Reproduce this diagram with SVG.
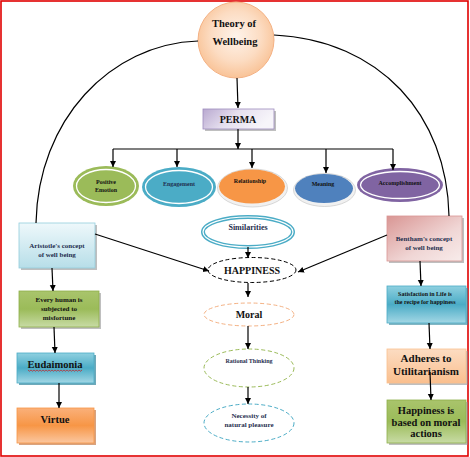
<svg xmlns="http://www.w3.org/2000/svg" width="470" height="457" viewBox="0 0 470 457">
<style>
.t{font-family:"Liberation Serif","Times New Roman",serif;font-weight:bold;text-anchor:middle;fill:#111}
.s{font-family:"Liberation Serif","Times New Roman",serif;font-weight:bold;text-anchor:middle;fill:#1f2f4f}
.c{fill:none;stroke:#000;stroke-width:1.2}
.ca{fill:none;stroke:#000;stroke-width:1.2;marker-end:url(#ah)}
.sh{fill:#8a8a8a;opacity:0.55}
</style>
<defs>
<marker id="ah" markerUnits="userSpaceOnUse" markerWidth="7" markerHeight="7" refX="6" refY="3" orient="auto">
<path d="M0,0 L6,3 L0,6 z" fill="#000"/>
</marker>
<radialGradient id="gCircle" cx="0.5" cy="0.45" r="0.55">
<stop offset="0" stop-color="#fef3ea"/>
<stop offset="0.6" stop-color="#fcdcc2"/>
<stop offset="1" stop-color="#f9c397"/>
</radialGradient>
<linearGradient id="gPerma" x1="0" y1="0" x2="1" y2="0.3">
<stop offset="0" stop-color="#b9a9d0"/>
<stop offset="0.5" stop-color="#e6e0ef"/>
<stop offset="1" stop-color="#f7f5fa"/>
</linearGradient>
<linearGradient id="gAri" x1="0" y1="0" x2="0" y2="1">
<stop offset="0" stop-color="#eef8fb"/>
<stop offset="1" stop-color="#b7dee8"/>
</linearGradient>
<linearGradient id="gGreen" x1="0" y1="0" x2="0" y2="1">
<stop offset="0" stop-color="#a9c46c"/>
<stop offset="0.5" stop-color="#9bbb59"/>
<stop offset="1" stop-color="#c8dba5"/>
</linearGradient>
<linearGradient id="gBlue" x1="0" y1="0" x2="0" y2="1">
<stop offset="0" stop-color="#8fd0e0"/>
<stop offset="0.5" stop-color="#4bacc6"/>
<stop offset="1" stop-color="#a3d7e5"/>
</linearGradient>
<linearGradient id="gOrange" x1="0" y1="0" x2="0" y2="1">
<stop offset="0" stop-color="#fab07a"/>
<stop offset="0.5" stop-color="#f79646"/>
<stop offset="1" stop-color="#fbc7a0"/>
</linearGradient>
<linearGradient id="gPink" x1="0" y1="0" x2="1" y2="1">
<stop offset="0" stop-color="#d99694"/>
<stop offset="0.6" stop-color="#f0d6d5"/>
<stop offset="1" stop-color="#f8eceb"/>
</linearGradient>
<linearGradient id="gPeach" x1="0" y1="0" x2="0" y2="1">
<stop offset="0" stop-color="#fcdcc2"/>
<stop offset="1" stop-color="#fabf8e"/>
</linearGradient>
</defs>
<rect x="0" y="0" width="470" height="457" fill="#fff"/>
<rect x="1" y="1" width="467" height="455" fill="none" stroke="#e00000" stroke-width="1.6"/>

<g id="theory">
<circle cx="236" cy="40" r="38" fill="url(#gCircle)" stroke="#f4b183" stroke-width="1"/>
<text class="t" x="234" y="27" font-size="10.5">Theory of</text>
<text class="t" x="235" y="45" font-size="10.5">Wellbeing</text>
</g>
<g id="perma">
<rect x="205" y="111" width="71" height="20" class="sh"/>
<rect x="203" y="109" width="71" height="20" fill="url(#gPerma)" stroke="#9d8cbd" stroke-width="0.8"/>
<text class="t" x="238" y="122.5" font-size="10">PERMA</text>
</g>
<g id="positive-emotion">
<ellipse cx="106" cy="186" rx="33" ry="20" fill="#9bbb59"/>
<ellipse cx="106" cy="186" rx="29.5" ry="16.5" fill="none" stroke="#fff" stroke-width="1.3"/>
<text class="t" x="106" y="184" font-size="6">Positive</text>
<text class="t" x="106" y="191.5" font-size="6">Emotion</text>
</g>
<g id="engagement">
<ellipse cx="179" cy="187" rx="37" ry="20" fill="#4bacc6"/>
<ellipse cx="179" cy="187" rx="33.5" ry="16.5" fill="none" stroke="#fff" stroke-width="1.3"/>
<text class="s" x="179" y="186" font-size="6">Engagement</text>
</g>
<g id="relationship">
<ellipse cx="252.5" cy="188" rx="35" ry="19" fill="#f1f1f1" stroke="#c8c8c8" stroke-width="0.7"/>
<ellipse cx="252" cy="186.5" rx="33" ry="17" fill="#f79646"/>
<text class="t" x="250" y="183" font-size="6">Relationship</text>
</g>
<g id="meaning">
<ellipse cx="324.5" cy="190" rx="31" ry="16.5" fill="#f1f1f1" stroke="#c8c8c8" stroke-width="0.7"/>
<ellipse cx="324" cy="188.5" rx="29" ry="14.5" fill="#4f81bd"/>
<text class="t" x="323" y="186" font-size="6">Meaning</text>
</g>
<g id="accomplishment">
<ellipse cx="400" cy="185" rx="43" ry="17" fill="#8064a2"/>
<ellipse cx="400" cy="185" rx="39.5" ry="13.5" fill="none" stroke="#fff" stroke-width="1.3"/>
<text class="t" x="400" y="185" font-size="6">Accomplishment</text>
</g>
<g id="similarities">
<ellipse cx="248" cy="232" rx="45" ry="15" fill="#fff" stroke="#4bacc6" stroke-width="4"/>
<ellipse cx="248" cy="232" rx="45" ry="15" fill="none" stroke="#fff" stroke-width="1.2"/>
<text class="s" x="248" y="230" font-size="8">Similarities</text>
</g>
<g id="happiness">
<ellipse cx="252" cy="270" rx="44" ry="12.5" fill="#fff" stroke="#000" stroke-width="1" stroke-dasharray="4,2.5"/>
<text class="t" x="252" y="274" font-size="10">HAPPINESS</text>
</g>
<g id="moral">
<ellipse cx="249" cy="314.5" rx="45" ry="11.5" fill="#fff" stroke="#f4b183" stroke-width="1" stroke-dasharray="4,2.5"/>
<text class="t" x="249" y="318" font-size="10">Moral</text>
</g>
<g id="rational-thinking">
<ellipse cx="249" cy="368" rx="45" ry="19" fill="#fff" stroke="#9bbb59" stroke-width="1" stroke-dasharray="4,2.5"/>
<text class="s" x="249" y="363" font-size="6" fill="#1f497d">Rational Thinking</text>
</g>
<g id="necessity">
<ellipse cx="249" cy="423" rx="45" ry="19" fill="#fff" stroke="#4bacc6" stroke-width="1" stroke-dasharray="4,2.5"/>
<text class="s" x="249" y="417.5" font-size="7">Necessity of</text>
<text class="s" x="249" y="426.5" font-size="7">natural pleasure</text>
</g>

<g id="aristotle">
<rect x="21" y="225" width="76" height="45" class="sh"/>
<rect x="19" y="223" width="76" height="45" fill="url(#gAri)" stroke="#93cddd" stroke-width="0.8"/>
<text class="s" x="57" y="247.5" font-size="7">Aristotle's concept</text>
<text class="s" x="57" y="256.5" font-size="7">of well being</text>
</g>
<g id="every-human">
<rect x="21" y="293" width="80" height="36" class="sh"/>
<rect x="19" y="291" width="80" height="36" fill="url(#gGreen)" stroke="#8eb04a" stroke-width="0.8"/>
<text class="t" x="59" y="301.5" font-size="7">Every human is</text>
<text class="t" x="59" y="310.5" font-size="7">subjected to</text>
<text class="t" x="59" y="319.5" font-size="7">misfortune</text>
</g>
<g id="eudaimonia">
<rect x="19" y="355" width="77" height="30" fill="#31859c" opacity="0.7"/>
<rect x="17" y="353" width="77" height="30" fill="url(#gBlue)" stroke="#4bacc6" stroke-width="0.8"/>
<text class="t" x="55" y="367.5" font-size="10.5">Eudaimonia</text>
<path d="M28,370 l1.5,1.2 l1.5,-1.2 l1.5,1.2 l1.5,-1.2 l1.5,1.2 l1.5,-1.2 l1.5,1.2 l1.5,-1.2 l1.5,1.2 l1.5,-1.2 l1.5,1.2 l1.5,-1.2 l1.5,1.2 l1.5,-1.2 l1.5,1.2 l1.5,-1.2 l1.5,1.2 l1.5,-1.2 l1.5,1.2 l1.5,-1.2 l1.5,1.2 l1.5,-1.2 l1.5,1.2 l1.5,-1.2 l1.5,1.2 l1.5,-1.2 l1.5,1.2 l1.5,-1.2 l1.5,1.2 l1.5,-1.2 l1.5,1.2 l1.5,-1.2 l1.5,1.2 l1.5,-1.2 l1.5,1.2 l1.5,-1.2" fill="none" stroke="#e00000" stroke-width="0.6"/>
</g>
<g id="virtue">
<rect x="19" y="410" width="77" height="35" fill="#c0652a" opacity="0.6"/>
<rect x="17" y="408" width="77" height="35" fill="url(#gOrange)" stroke="#f79646" stroke-width="0.8"/>
<text class="t" x="55" y="423" font-size="10.5">Virtue</text>
</g>

<g id="bentham">
<rect x="389" y="218" width="75" height="45" class="sh"/>
<rect x="387" y="216" width="75" height="45" fill="url(#gPink)" stroke="#d99694" stroke-width="0.8"/>
<text class="s" x="424" y="240.5" font-size="7">Bentham's concept</text>
<text class="s" x="424" y="249.5" font-size="7">of well being</text>
</g>
<g id="satisfaction">
<rect x="389" y="288" width="79" height="37" fill="#31859c" opacity="0.6"/>
<rect x="387" y="286" width="79" height="37" fill="url(#gBlue)" stroke="#4bacc6" stroke-width="0.8"/>
<text class="t" x="425" y="296" font-size="6">Satisfaction in Life is</text>
<text class="t" x="425" y="304" font-size="6">the recipe for happiness</text>
</g>
<g id="adheres">
<rect x="389" y="351" width="79" height="34" class="sh"/>
<rect x="387" y="349" width="79" height="34" fill="url(#gPeach)" stroke="#fac090" stroke-width="0.8"/>
<text class="t" x="426" y="362" font-size="11">Adheres to</text>
<text class="t" x="426" y="375" font-size="11">Utilitarianism</text>
</g>
<g id="happiness-moral">
<rect x="389" y="402" width="79" height="43" class="sh"/>
<rect x="387" y="400" width="79" height="43" fill="url(#gGreen)" stroke="#8eb04a" stroke-width="0.8"/>
<text class="t" x="426" y="414" font-size="10.5">Happiness is</text>
<text class="t" x="426" y="425.5" font-size="10.5">based on moral</text>
<text class="t" x="426" y="437" font-size="10.5">actions</text>
</g>

<g id="connectors">
<path class="c" d="M198,41 C110,44 38,120 36,223"/>
<path class="c" d="M274,35 C380,40 447,115 449,216"/>
<line class="ca" x1="237" y1="78" x2="238" y2="108"/>
<line class="ca" x1="238" y1="129" x2="238" y2="149"/>
<line class="c" x1="113" y1="149" x2="393" y2="149" stroke-width="1.4"/>
<line class="ca" x1="113" y1="149" x2="113" y2="167"/>
<line class="ca" x1="177" y1="149" x2="177" y2="167"/>
<line class="ca" x1="252" y1="149" x2="252" y2="168"/>
<line class="ca" x1="326" y1="149" x2="326" y2="173"/>
<line class="ca" x1="393" y1="149" x2="393" y2="170"/>
<line class="ca" x1="248" y1="247" x2="248" y2="258"/>
<line class="ca" x1="248" y1="283" x2="248" y2="297"/>
<line class="ca" x1="248" y1="326" x2="248" y2="349" stroke="#666" stroke-width="1.4"/>
<line class="ca" x1="248" y1="387" x2="248" y2="404"/>
<line class="ca" x1="95" y1="234" x2="209" y2="271"/>
<line class="ca" x1="387" y1="235" x2="298" y2="272"/>
<line class="ca" x1="52" y1="268" x2="53" y2="291"/>
<line class="ca" x1="54" y1="327" x2="55" y2="353"/>
<line class="ca" x1="59" y1="383" x2="59" y2="408"/>
<line class="ca" x1="420" y1="261" x2="421" y2="286"/>
<line class="ca" x1="429" y1="323" x2="430" y2="349"/>
<line class="ca" x1="430" y1="372" x2="431" y2="400"/>
</g>
</svg>
